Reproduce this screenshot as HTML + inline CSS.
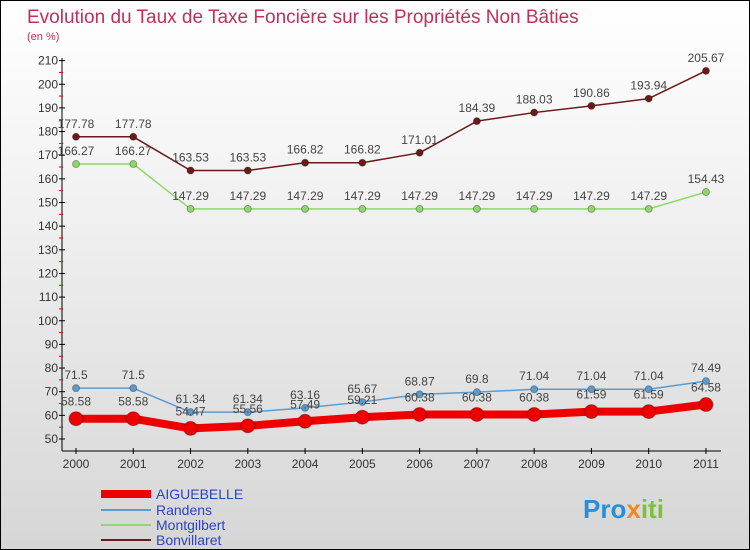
<!DOCTYPE html>
<html><head><meta charset="utf-8"><style>
body{margin:0}
#c{width:748px;height:548px;border:1px solid #000;background:linear-gradient(#fff,#f4f4f4 30%,#d6d6d6);position:relative;overflow:hidden;font-family:"Liberation Sans",sans-serif}
svg text{font-family:"Liberation Sans",sans-serif}
</style></head><body>
<div id="c">
<svg id="s" width="748" height="548">
<text x="26" y="22" font-size="19" fill="#c0305a">Evolution du Taux de Taxe Foncière sur les Propriétés Non Bâties</text>
<text x="26" y="39" font-size="11" fill="#c0305a">(en %)</text>
<g id="ax"></g><g id="ser"></g>
<g>
<line x1="100" y1="493" x2="150" y2="493" stroke="#e00" stroke-width="8"/>
<text x="155" y="498" font-size="14" fill="#2b45c4">AIGUEBELLE</text>
<line x1="100" y1="509" x2="150" y2="509" stroke="#5b9bd0" stroke-width="2"/>
<text x="155" y="514" font-size="14" fill="#2b45c4">Randens</text>
<line x1="100" y1="524" x2="150" y2="524" stroke="#8dd86a" stroke-width="2"/>
<text x="155" y="529" font-size="14" fill="#2b45c4">Montgilbert</text>
<line x1="100" y1="539" x2="150" y2="539" stroke="#6b1a1a" stroke-width="2"/>
<text x="155" y="544" font-size="14" fill="#2b45c4">Bonvillaret</text>
</g>
<text x="582" y="517" font-size="26" font-weight="bold" fill="#2a8fd8">Pro<tspan fill="#f08a1c">x</tspan><tspan fill="#7bc23a">iti</tspan></text>
</svg></div>
<script>
const years=[2000,2001,2002,2003,2004,2005,2006,2007,2008,2009,2010,2011];
const yTicks=[50,60,70,80,90,100,110,120,130,140,150,160,170,180,190,200,210];
const aiguebelle=[58.58,58.58,54.47,55.56,57.49,59.21,60.38,60.38,60.38,61.59,61.59,64.58];
const randens=[71.5,71.5,61.34,61.34,63.16,65.67,68.87,69.8,71.04,71.04,71.04,74.49];
const montgilbert=[166.27,166.27,147.29,147.29,147.29,147.29,147.29,147.29,147.29,147.29,147.29,154.43];
const bonvillaret=[177.78,177.78,163.53,163.53,166.82,166.82,171.01,184.39,188.03,190.86,193.94,205.67];
const NS="http://www.w3.org/2000/svg";
const X=i=>75+i*57.27, Y=v=>438-(v-50)*2.365;
function el(t,a,p){const e=document.createElementNS(NS,t);for(const k in a)e.setAttribute(k,a[k]);p.appendChild(e);return e;}
const ax=document.getElementById('ax');
let l=el('line',{x1:61,y1:57,x2:61,y2:450,stroke:'#000'},ax);


l=el('line',{x1:61,y1:450,x2:720,y2:450,stroke:'#000'},ax);


yTicks.forEach((v,i)=>{
  el('line',{x1:58,x2:64,y1:Y(v),y2:Y(v),stroke:'#000'},ax);
  if(i<yTicks.length-1)el('line',{x1:58,x2:62,y1:Y(v+5),y2:Y(v+5),stroke:'#e00'},ax);
  const t=el('text',{x:57,y:Y(v)+4,'font-size':12,fill:'#333','text-anchor':'end'},ax);
  t.textContent=v;
  
  
});
years.forEach((y,i)=>{
  el('line',{x1:X(i),x2:X(i),y1:447,y2:453,stroke:'#000'},ax);
  const t=el('text',{x:X(i),y:467,'font-size':12,fill:'#333','text-anchor':'middle'},ax);
  t.textContent=y;
  
  
});
const ser=document.getElementById('ser');
function draw(data,color,w,r,name,dy){
  const g=el('g',{},ser);
  
  
  el('polyline',{points:data.map((v,i)=>X(i)+','+Y(v)).join(' '),fill:'none',stroke:color,'stroke-width':w,'stroke-linejoin':'round'},g);
  data.forEach((v,i)=>{
    const c=el('circle',{cx:X(i),cy:Y(v),r:r,fill:color,stroke:'rgba(0,0,0,0.3)','stroke-width':1},g);
    
    
    const t=el('text',{x:X(i),y:Y(v)+dy,'font-size':12,fill:'#444','text-anchor':'middle'},g);
    t.textContent=v;
    
    
  });
}
draw(bonvillaret,'#6b1a1a',1.5,3.5,'bonvillaret',-9);
draw(montgilbert,'#8dd86a',1.5,3.5,'montgilbert',-9);
draw(randens,'#5b9bd0',1.5,3.5,'randens',-9);
draw(aiguebelle,'#e00',8,7,'aiguebelle',-13);
</script>
</body></html>
